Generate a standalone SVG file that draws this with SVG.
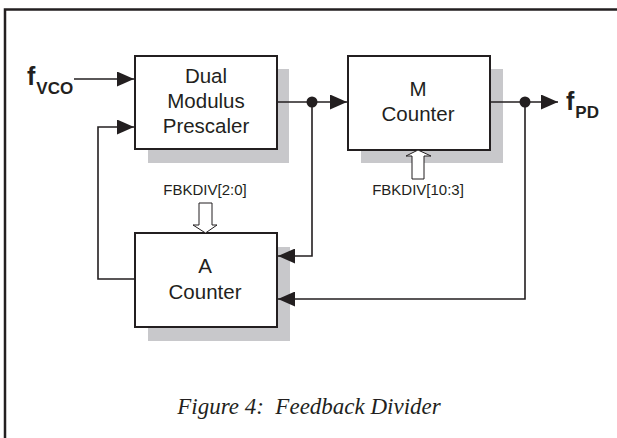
<svg xmlns="http://www.w3.org/2000/svg" width="617" height="438" viewBox="0 0 617 438">
<defs>
<style>
.box{fill:#fff;stroke:#231f20;stroke-width:2}
.sh{fill:#c8c8cb}
.ln{fill:none;stroke:#231f20;stroke-width:1.6}
.lbl{font-family:"Liberation Sans",Arial,sans-serif;font-size:20.5px;fill:#231f20;text-anchor:middle}
.sm{font-family:"Liberation Sans",Arial,sans-serif;font-size:15px;fill:#231f20;text-anchor:middle}
.sig{font-family:"Liberation Sans",Arial,sans-serif;font-weight:bold;fill:#231f20}
.hol{fill:#fff;stroke:#231f20;stroke-width:1}
</style>
<marker id="ah" markerWidth="17" markerHeight="15" refX="17" refY="7.5" orient="auto" markerUnits="userSpaceOnUse">
<path d="M0,0 L17,7.5 L0,15 Z" fill="#231f20"/>
</marker>
</defs>
<rect width="617" height="438" fill="#fff"/>
<path d="M5,438 V9.5 H617" fill="none" stroke="#231f20" stroke-width="2.5"/>

<g id="prescaler">
<rect class="sh" x="148" y="69" width="141" height="94"/>
<rect class="box" x="135" y="56" width="142" height="93"/>
<text class="lbl" x="206" y="83">Dual</text>
<text class="lbl" x="206" y="108">Modulus</text>
<text class="lbl" x="206" y="133">Prescaler</text>
</g>

<g id="mcounter">
<rect class="sh" x="361" y="69" width="142" height="94"/>
<rect class="box" x="348" y="56" width="142" height="94"/>
<text class="lbl" x="418" y="96">M</text>
<text class="lbl" x="418" y="121">Counter</text>
</g>

<g id="acounter">
<rect class="sh" x="148" y="247" width="142" height="94"/>
<rect class="box" x="135" y="233" width="142" height="94"/>
<text class="lbl" x="205" y="273">A</text>
<text class="lbl" x="205" y="299">Counter</text>
</g>

<g id="fvco">
<text class="sig" x="27" y="85" font-size="25">f<tspan font-size="17" dy="9" dx="1">VCO</tspan></text>
</g>
<g id="fpd">
<text class="sig" x="566" y="110" font-size="25">f<tspan font-size="17" dy="8" dx="1">PD</tspan></text>
</g>

<g id="fbkdiv20">
<text class="sm" x="205" y="195">FBKDIV[2:0]</text>
<path class="hol" d="M199,203 H212 V225 H217 L205.5,233 L193,225 H199 Z"/>
</g>
<g id="fbkdiv103">
<text class="sm" x="418" y="195">FBKDIV[10:3]</text>
<path class="hol" d="M412,179 V156 H406 L418,150 L431,156 H424 V179 Z"/>
</g>

<g id="connectors">
<path class="ln" d="M74,79 H134" marker-end="url(#ah)"/>
<path class="ln" d="M135,279 H98 V127 H134" marker-end="url(#ah)"/>
<path class="ln" d="M277,102 H347" marker-end="url(#ah)"/>
<path class="ln" d="M312,102 V256 H278" marker-end="url(#ah)"/>
<path class="ln" d="M490,102 H558" marker-end="url(#ah)"/>
<path class="ln" d="M525,102 V299 H278" marker-end="url(#ah)"/>
<circle cx="312" cy="102" r="5.5" fill="#231f20"/>
<circle cx="525" cy="102" r="5.5" fill="#231f20"/>
</g>

<text x="309" y="414" font-family="'Liberation Serif','Times New Roman',serif" font-style="italic" font-size="23" fill="#231f20" text-anchor="middle" xml:space="preserve">Figure 4:  Feedback Divider</text>
</svg>
